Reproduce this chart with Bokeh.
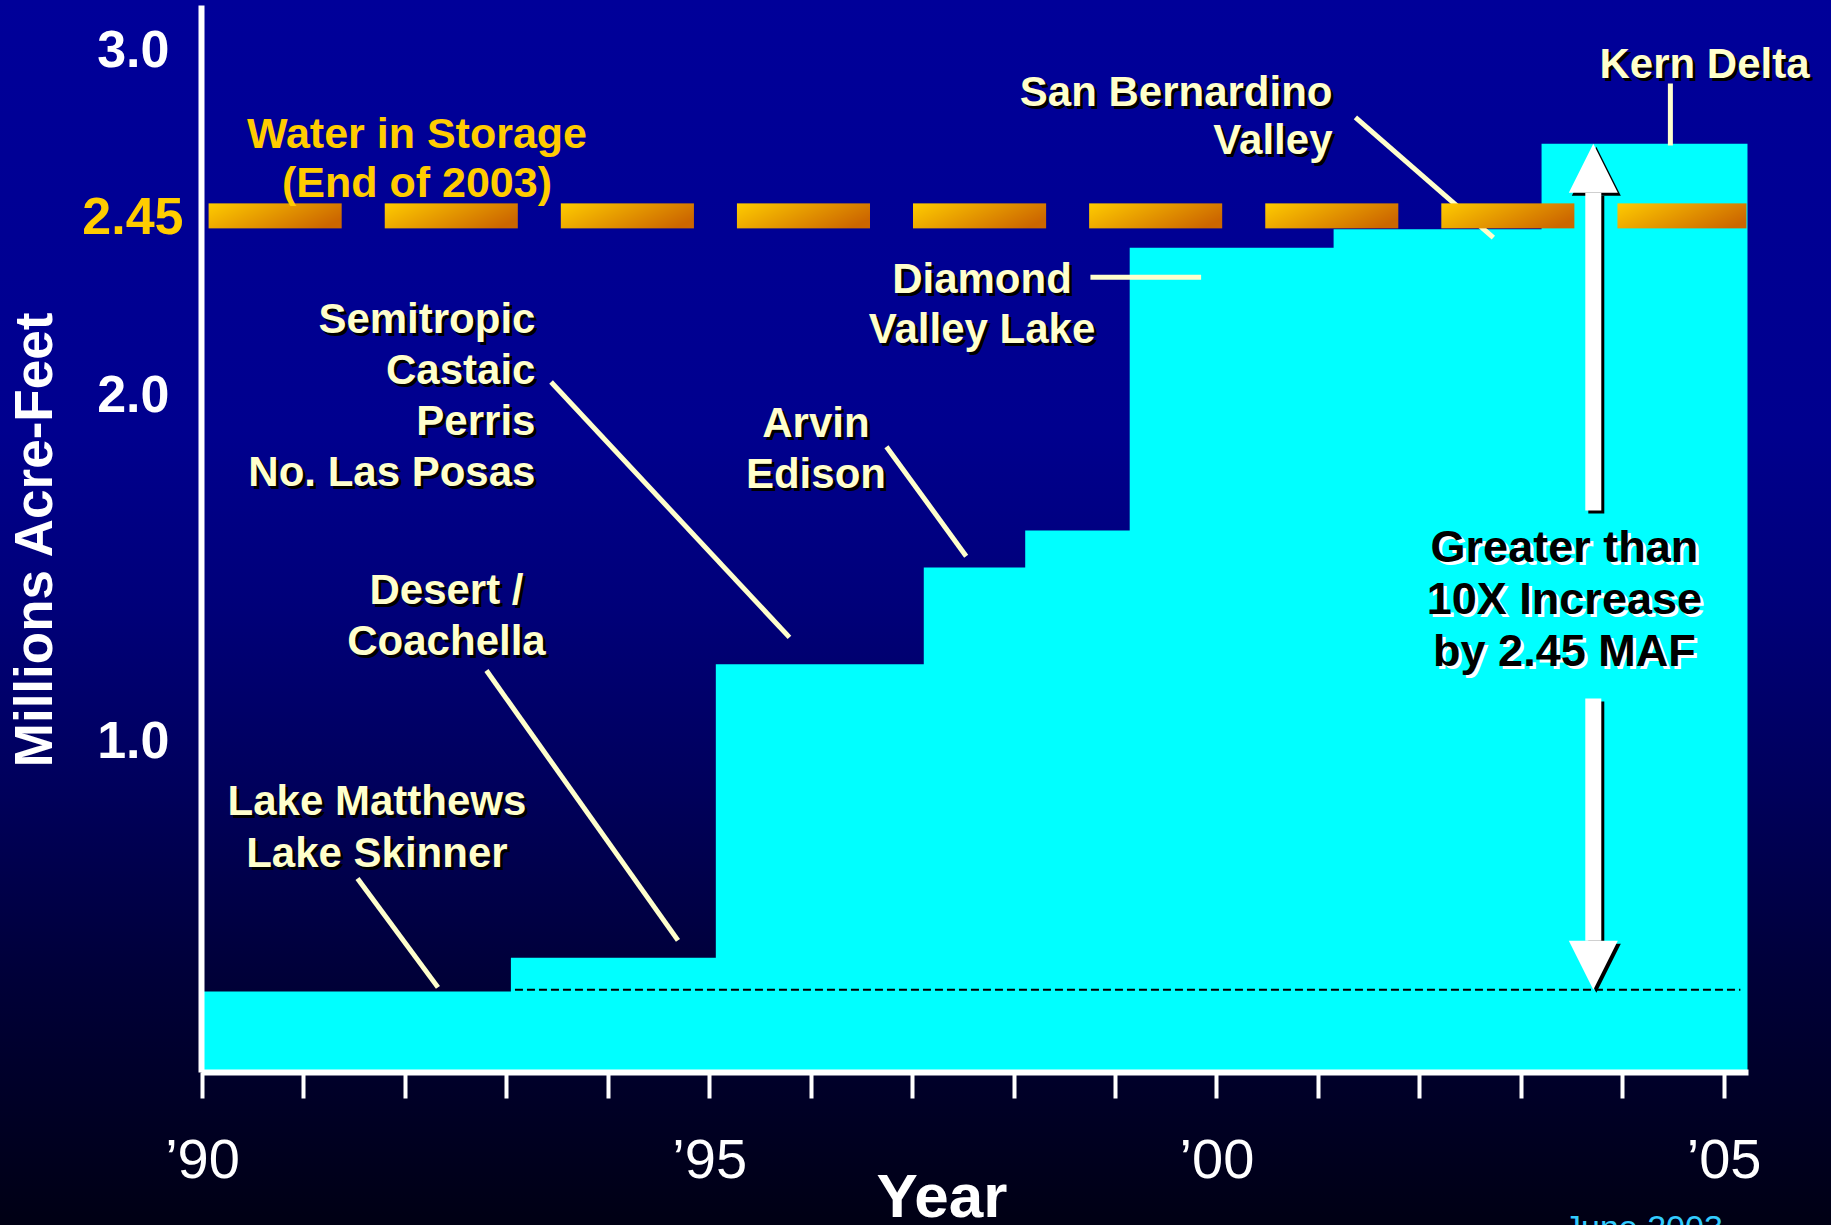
import numpy as np
from jinja2 import Template
from bokeh.plotting import figure
from bokeh.models import Range1d, FixedTicker, Arrow, NormalHead
from bokeh.core.properties import value
from bokeh.embed import file_html
from bokeh.resources import INLINE

# ---------------- data ----------------
step_edge_year = [1990.0, 1993.04, 1995.06, 1997.11, 1998.11, 1999.14, 2001.15, 2003.20, 2005.23]
storage_maf = [0.272, 0.370, 1.219, 1.499, 1.606, 2.425, 2.478, 2.726]

storage_line_maf = 2.517          # gold dashed "Water in Storage" level
storage_line_label = "2.45"
storage_line_start, storage_line_end = 1990.06, 2005.22
reference_level_maf = 0.277       # thin dotted reference line (1990 level)
reference_start, reference_end = 1993.08, 2005.16

y_ticks = [1.0, 2.0, 3.0]
y_tick_labels = ["1.0", "2.0", "3.0"]
x_ticks = list(range(1990, 2006))
x_tick_labels = {1990: "\u201990", 1995: "\u201995", 2000: "\u201900", 2005: "\u201905"}

# leader lines (from label to step), in data coordinates
leader_x0 = [1991.528, 1992.799, 1993.436, 1996.742, 1998.753, 2001.365, 2004.470]
leader_y0 = [0.599, 1.201, 2.036, 1.849, 2.339, 2.802, 2.900]
leader_x1 = [1992.321, 1994.687, 1995.786, 1997.528, 1999.844, 2002.725, 2004.470]
leader_y1 = [0.284, 0.420, 1.297, 1.532, 2.339, 2.454, 2.721]

arrow_year = 2003.71
arrow_upper_start, arrow_lower_start = 1.664, 1.120

# ---------------- styling ----------------
CYAN = "#00FFFF"
CREAM = "#FFFFCC"
GOLD = "#FFCC00"
FONT = "Liberation Sans"

X0, X1 = 1989.99, 2005.24
Y0, Y1 = 0.0376, 3.1259
p = figure(width=1831, height=1225,
           x_range=Range1d(X0, X1), y_range=Range1d(Y0, Y1),
           output_backend="svg", toolbar_location=None,
           min_border_left=201, min_border_right=83, min_border_top=5, min_border_bottom=153,
           background_fill_alpha=0, border_fill_alpha=0, outline_line_color=None)
p.grid.visible = False
px_per_year = 1547 / (X1 - X0)
px_per_unit = 1067 / (Y1 - Y0)

# stepped storage area (one polygon, no seams)
p.varea_step(x=step_edge_year, y1=[0] * len(step_edge_year),
             y2=storage_maf + [storage_maf[-1]], step_mode="after", fill_color=CYAN)

# dotted reference line
p.line(x=[reference_start, reference_end], y=[reference_level_maf, reference_level_maf],
       line_color="black", line_width=2, line_dash="8 4")

# leader lines
p.segment(x0=leader_x0, y0=leader_y0, x1=leader_x1, y1=leader_y1,
          line_color=CREAM, line_width=5)

# gold gradient dashed storage line (image so each dash carries a gradient)
W = int(round((storage_line_end - storage_line_start) * px_per_year))
H = 25
cols = np.arange(W)
phase = cols % 176
dash = phase < 133
tx = np.clip(phase / 132.0, 0, 1)
rows = np.arange(H)
ty = (H - 1 - rows) / (H - 1)
s = np.clip(0.8 * tx[None, :] + 0.3 * ty[:, None], 0, 1)
img = np.zeros((H, W), dtype=np.uint32)
view = img.view(dtype=np.uint8).reshape((H, W, 4))
view[..., 0] = (255 - 51 * s).astype(np.uint8)
view[..., 1] = (204 - 102 * s).astype(np.uint8)
view[..., 2] = 0
view[..., 3] = np.where(dash[None, :], 255, 0).astype(np.uint8)
band = H / px_per_unit
p.image_rgba(image=[img], x=storage_line_start, y=storage_line_maf - band / 2,
             dw=storage_line_end - storage_line_start, dh=band)

# axes
p.yaxis.ticker = FixedTicker(ticks=y_ticks)
p.yaxis.major_label_overrides = dict(zip(y_ticks, y_tick_labels))
p.yaxis.axis_label = "Millions Acre-Feet"
p.yaxis.axis_label_text_font = FONT
p.yaxis.axis_label_text_font_style = "bold"
p.yaxis.axis_label_text_font_size = "53px"
p.yaxis.axis_label_text_color = "white"
p.yaxis.axis_label_standoff = 31
p.yaxis.major_label_text_font = FONT
p.yaxis.major_label_text_font_style = "bold"
p.yaxis.major_label_text_font_size = "52px"
p.yaxis.major_label_text_color = "white"
p.yaxis.major_label_standoff = 32
p.yaxis.major_tick_line_color = None
p.yaxis.major_tick_out = 0
p.yaxis.major_tick_in = 0
p.yaxis.minor_tick_line_color = None
p.yaxis.axis_line_color = "white"
p.yaxis.axis_line_width = 6

p.xaxis.ticker = FixedTicker(ticks=x_ticks)
p.xaxis.major_label_overrides = {y: x_tick_labels.get(y, "") for y in x_ticks}
p.xaxis.major_label_text_font = FONT
p.xaxis.major_label_text_font_size = "56px"
p.xaxis.major_label_text_color = "white"
p.xaxis.major_label_standoff = 28
p.xaxis.major_tick_line_color = "white"
p.xaxis.major_tick_line_width = 4
p.xaxis.major_tick_out = 26
p.xaxis.major_tick_in = 0
p.xaxis.minor_tick_line_color = None
p.xaxis.axis_line_color = "white"
p.xaxis.axis_line_width = 6

# arrows (with a small black shadow)
dx, dy = 3 / px_per_year, 3 / px_per_unit
for col, ox, oy in (("black", dx, -dy), ("white", 0, 0)):
    p.add_layout(Arrow(end=NormalHead(size=49, fill_color=col, line_color=None),
                       x_start=arrow_year + ox, y_start=arrow_upper_start + oy,
                       x_end=arrow_year + ox, y_end=storage_maf[-1] + oy,
                       line_color=col, line_width=16))
    p.add_layout(Arrow(end=NormalHead(size=49, fill_color=col, line_color=None),
                       x_start=arrow_year + ox, y_start=arrow_lower_start + oy,
                       x_end=arrow_year + ox, y_end=reference_level_maf + oy,
                       line_color=col, line_width=16))


def add_text(lines, x, ys, align, color=CREAM, size="42px", style="bold",
             shadow="black", baseline="middle"):
    common = dict(text_align=align, text_baseline=baseline, text_font=value(FONT),
                  text_font_style=style, text_font_size=size, level="overlay")
    xs = [x] * len(lines)
    if shadow:
        p.text(x=xs, y=ys, text=lines, x_offset=3, y_offset=3, text_color=shadow, **common)
    p.text(x=xs, y=ys, text=lines, text_color=color, **common)


add_text(["Water in Storage", "(End of 2003)"], 1992.114, [2.758, 2.614], "center",
         color=GOLD, size="43px", shadow=None)
add_text([storage_line_label], 1989.813, [storage_line_maf], "right",
         color=GOLD, size="52px", shadow=None)
add_text(["Semitropic", "Castaic", "Perris", "No. Las Posas"], 1993.282,
         [2.2214, 2.0723, 1.9247, 1.7771], "right")
add_text(["Desert /", "Coachella"], 1992.405, [1.4356, 1.2889], "center")
add_text(["Lake Matthews", "Lake Skinner"], 1991.719, [0.8249, 0.6758], "center")
add_text(["Arvin", "Edison"], 1996.047, [1.9175, 1.7719], "center")
add_text(["Diamond", "Valley Lake"], 1997.684, [2.3357, 2.1902], "center")
add_text(["San Bernardino", "Valley"], 2001.139, [2.8770, 2.7381], "right")
add_text(["Kern Delta"], 2004.806, [2.9571], "center")
add_text(["Greater than", "10X Increase", "by 2.45 MAF"], 2003.425,
         [1.5600, 1.4095, 1.2590], "center", color="black", size="45px", shadow="white")
add_text(["Year"], 1997.289, [-0.318], "center", color="white", size="62px",
         shadow=None)
add_text(["June 2003"], 2004.204, [-0.411], "center", color="#33CCFF", size="34px",
         style="normal", shadow=None)

tmpl = Template("""{% extends base %}
{% block preamble %}
<style>
html { background: linear-gradient(180deg, #000099 0%, #00008E 35%, #000078 50%, #00005A 65%, #000038 80%, #000014 100%) fixed; }
html, body { overflow: hidden; }
body { background: transparent; }
</style>
{% endblock %}""")

with open("out.html", "w", encoding="utf-8") as f:
    f.write(file_html(p, INLINE, template=tmpl))
